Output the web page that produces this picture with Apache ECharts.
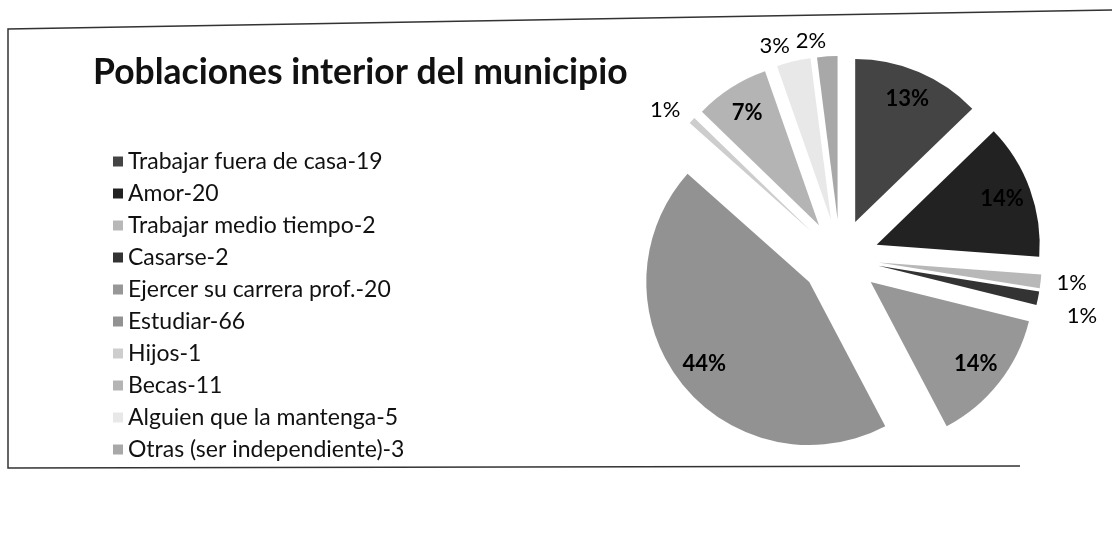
<!DOCTYPE html>
<html>
<head>
<meta charset="utf-8">
<script src="https://cdn.jsdelivr.net/npm/echarts@6/dist/echarts.min.js"></script>
<style>
  html, body { margin: 0; padding: 0; background: #fff; }
  #chart { width: 1112px; height: 550px; }
</style>
</head>
<body>
<div id="chart"></div>
<script>
/* Poblaciones interior del municipio — exploded grayscale pie */
(function () {
  "use strict";

  const categories = [
    "Trabajar fuera de casa-19",
    "Amor-20",
    "Trabajar medio tiempo-2",
    "Casarse-2",
    "Ejercer su carrera prof.-20",
    "Estudiar-66",
    "Hijos-1",
    "Becas-11",
    "Alguien que la mantenga-5",
    "Otras (ser independiente)-3",
  ];
  const values = [19, 20, 2, 2, 20, 66, 1, 11, 5, 3];

  // scanned-print grays, one per slice
  const GRAYS = ["#444444", "#222222", "#b8b8b8", "#333333", "#979797",
                 "#929292", "#cdcdcd", "#b4b4b4", "#e8e8e8", "#a8a8a8"];

  // Excel's best-fit pushed this one label down to clear its neighbour
  const LABEL_NUDGE = { "Casarse-2": { dx: 13, dy: 15 } };

  const FONT = "Lato, 'Open Sans', sans-serif";
  const R = 163;
  const CENTER = [840, 258];
  const OFFSET = 39;
  const total = values.reduce((a, b) => a + b, 0);

  const shapes = categories.map((name, i) => ({
    name, value: values[i], selected: true,
    itemStyle: { color: GRAYS[i] },
  }));

  // label layer: same slices, invisible; big slices labelled inside, small ones outside
  const labels = categories.map((name, i) => {
    const big = values[i] / total >= 0.05;
    return {
      name, value: values[i], selected: true,
      itemStyle: { color: "rgba(0,0,0,0)" },
      label: big ? { position: "inside", fontWeight: "bold" } : { position: "outside" },
      labelLine: { show: false, length: 16, length2: 0 },
    };
  });

  const chart = echarts.init(document.getElementById("chart"), null, { renderer: "canvas" });
  chart.setOption({
    backgroundColor: "#ffffff",
    animation: false,
    title: {
      text: "Poblaciones interior del municipio",
      left: 88, top: 50,
      textStyle: { fontFamily: FONT, fontWeight: "bold", fontSize: 35.5, color: "#111" },
    },
    legend: {
      orient: "vertical",
      left: 108, top: 145,
      itemWidth: 10, itemHeight: 10, itemGap: 9,
      icon: "rect",
      data: categories,
      selectedMode: false,
      textStyle: { fontFamily: FONT, fontSize: 23, color: "#111" },
    },
    graphic: [
      { type: "polyline", silent: true,
        shape: { points: [[1112, 10], [8, 29], [8, 468], [1020, 466]] },
        style: { stroke: "#333", lineWidth: 1.5, fill: null } },
    ],
    series: [
      {
        type: "pie",
        center: CENTER, radius: R,
        startAngle: 90, clockwise: true,
        selectedMode: "multiple", selectedOffset: OFFSET,
        avoidLabelOverlap: false,
        silent: true,
        label: { show: false }, labelLine: { show: false },
        data: shapes,
      },
      {
        type: "pie",
        center: CENTER, radius: [R * 0.6, R],
        startAngle: 90, clockwise: true,
        selectedMode: "multiple", selectedOffset: OFFSET,
        avoidLabelOverlap: false,
        labelLayout: (p) => Object.assign({ hideOverlap: false }, LABEL_NUDGE[categories[p.dataIndex]] || {}),
        percentPrecision: 0,
        silent: true,
        label: {
          show: true, formatter: "{d}%", color: "#000",
          fontFamily: FONT, fontSize: 22, distanceToLabelLine: 0,
        },
        data: labels,
      },
    ],
  });
})();
</script>
</body>
</html>
